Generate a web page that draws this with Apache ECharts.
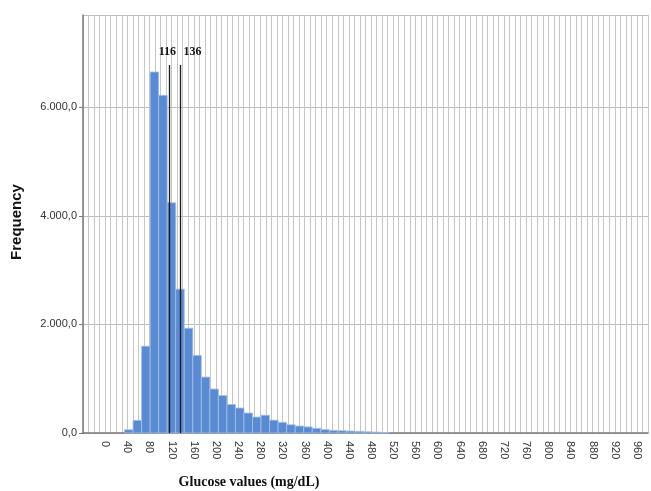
<!DOCTYPE html>
<html>
<head>
<meta charset="utf-8">
<script src="https://cdn.jsdelivr.net/npm/echarts@6/dist/echarts.min.js"></script>
<style>
html,body{margin:0;padding:0;background:#fff;}
#c{width:651px;height:491px;}
</style>
</head>
<body>
<div id="c"></div>
<script>
// Histogram bin edges (mg/dL) and frequencies
const binEdges = [35, 50.4, 65.8, 81.2, 96.6, 112, 127.4, 142.8, 158.2, 173.6, 189, 204.4, 219.8, 235.2, 250.6, 266, 281.4, 296.8, 312.2, 327.6, 343, 358.4, 373.8, 389.2, 404.6, 420, 435.4, 450.8, 466.2, 481.6, 497, 512.4];
const frequencies = [60, 232, 1600, 6650, 6220, 4240, 2650, 1930, 1430, 1030, 810, 690, 525, 460, 368, 294, 328, 236, 195, 152, 128, 112, 86, 62, 48, 42, 36, 30, 22, 16, 8];
const refLines = [116, 136];
const refLineTop = 6780;
const xAxisTitle = 'Glucose values (mg/dL)';
const yAxisTitle = 'Frequency';

const barData = frequencies.map((f, i) => [binEdges[i], binEdges[i + 1], f]);

function fmtY(v) {
  const s = Math.round(v).toString().replace(/\B(?=(\d{3})+(?!\d))/g, '.');
  return s + ',0';
}

const chart = echarts.init(document.getElementById('c'), null, {renderer: 'canvas'});
chart.setOption({
  animation: false,
  backgroundColor: '#ffffff',
  grid: {left: 83, right: 3, top: 15, bottom: 58, containLabel: false},
  xAxis: {
    type: 'value',
    min: -40,
    max: 980,
    interval: 10,
    axisLine: {show: true, onZero: false, lineStyle: {color: '#7a7a7a', width: 1.5}},
    axisTick: {show: false},
    splitLine: {show: true, lineStyle: {color: '#c6c6c6', width: 1}},
    axisLabel: {
      rotate: -90,
      margin: 8,
      color: '#333',
      fontFamily: 'Liberation Sans, Arial, sans-serif',
      fontSize: 11,
      showMinLabel: false,
      showMaxLabel: false,
      formatter: v => (v >= 0 && v % 40 === 0) ? String(v) : ''
    }
  },
  yAxis: {
    type: 'value',
    min: 0,
    max: 7700,
    interval: 2000,
    axisLine: {show: true, onZero: false, lineStyle: {color: '#7a7a7a', width: 1.5}},
    axisTick: {show: true, length: 4, lineStyle: {color: '#7a7a7a'}},
    splitLine: {show: true, lineStyle: {color: '#bdbdbd', width: 1}},
    axisLabel: {
      color: '#333',
      fontFamily: 'Liberation Sans, Arial, sans-serif',
      fontSize: 11,
      margin: 6,
      showMaxLabel: false,
      formatter: v => (v % 2000 === 0) ? fmtY(v) : ''
    }
  },
  graphic: [
    {
      type: 'text',
      x: 17, y: 222,
      rotation: Math.PI / 2,
      style: {
        text: yAxisTitle,
        x: 0, y: 0,
        fill: '#111',
        font: 'bold 15px "Liberation Sans", Arial, sans-serif',
        textAlign: 'center',
        textVerticalAlign: 'middle'
      }
    },
    {
      type: 'text',
      style: {
        text: xAxisTitle,
        x: 249, y: 482,
        fill: '#111',
        font: 'bold 14px "Liberation Serif", "Times New Roman", serif',
        textAlign: 'center',
        textVerticalAlign: 'middle'
      }
    }
  ],
  series: [
    {
      type: 'custom',
      data: barData,
      encode: {x: [0, 1], y: 2},
      renderItem: function (params, api) {
        const p0 = api.coord([api.value(0), 0]);
        const p1 = api.coord([api.value(1), api.value(2)]);
        return {
          type: 'rect',
          shape: {x: p0[0], y: p1[1], width: p1[0] - p0[0], height: p0[1] - p1[1]},
          style: {fill: '#5a8ad1', stroke: '#a3c0ea', lineWidth: 0.8}
        };
      },
      z: 3
    },
    {
      type: 'line',
      data: [],
      markLine: {
        symbol: 'none',
        silent: true,
        lineStyle: {color: '#1a1a1a', width: 1.3, type: 'solid'},
        label: {
          show: true,
          position: 'end',
          color: '#111',
          fontFamily: 'Liberation Serif, Times New Roman, serif',
          fontWeight: 'bold',
          fontSize: 12
        },
        data: refLines.map((v, i) => [
          {coord: [v, 0]},
          {coord: [v, refLineTop], label: {formatter: String(v), offset: i === 0 ? [-2, -2] : [12, -2]}}
        ])
      },
      z: 5
    }
  ]
});
</script>
</body>
</html>
